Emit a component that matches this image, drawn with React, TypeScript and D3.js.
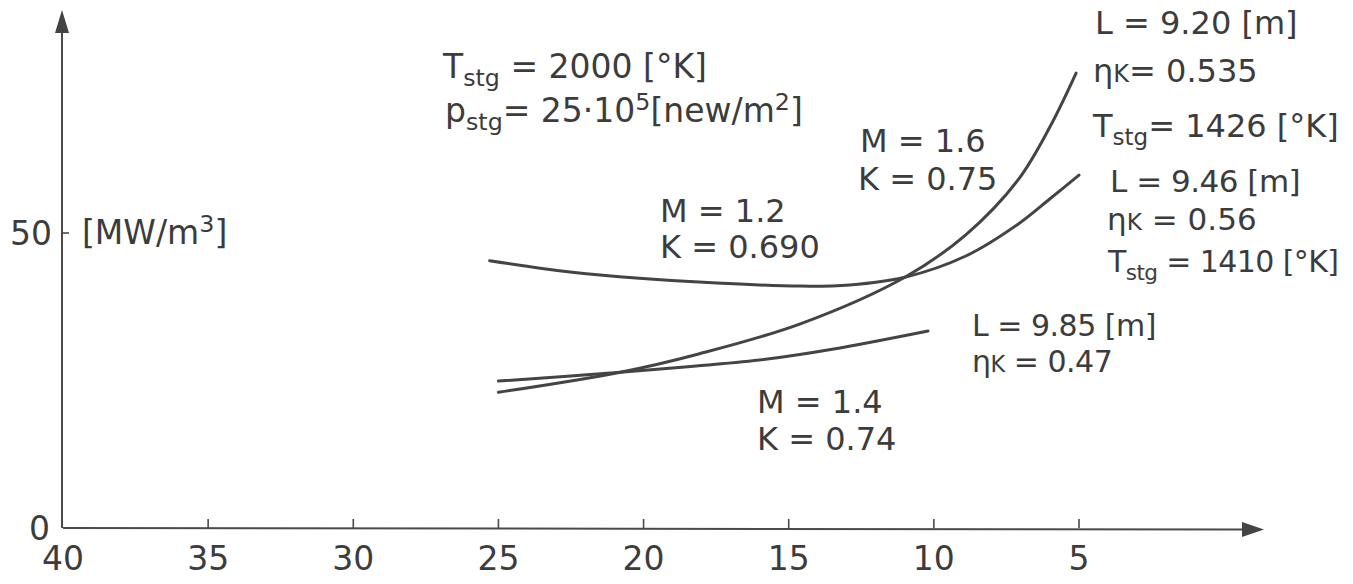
import React from 'react'
import * as d3 from 'd3'

// axis ticks
const xTicks = [40, 35, 30, 25, 20, 15, 10, 5]
const yTicks = [0, 50]

// curves: x = abscissa value, y = MW/m3
const m12x = [25.3, 23.5, 21.5, 18.1, 14.6, 12.9, 11.0, 8.9, 7.1, 6.0, 5.0]
const m12y = [45.3, 44.0, 42.9, 41.7, 41.0, 41.2, 42.5, 46.1, 51.5, 55.8, 59.8]

const m16x = [25.0, 20.8, 18.1, 14.6, 11.0, 8.9, 7.1, 6.0, 5.1]
const m16y = [23.0, 26.4, 29.5, 34.6, 42.5, 49.7, 59.0, 68.0, 77.1]

const m14x = [25.0, 20.8, 18.1, 15.8, 13.5, 10.2]
const m14y = [24.9, 26.4, 27.5, 28.6, 30.3, 33.4]

const series = [
  { name: 'M=1.2', xs: m12x, ys: m12y },
  { name: 'M=1.6', xs: m16x, ys: m16y },
  { name: 'M=1.4', xs: m14x, ys: m14y },
]

type Part = { t: string; shift?: number; scale?: number }

const FONT = '"DejaVu Sans", sans-serif'
const INK = '#3c3c3c'

const Rich = ({
  x,
  y,
  parts,
  size = 32,
  spacing = 0,
}: {
  x: number
  y: number
  parts: Part[]
  size?: number
  spacing?: number
}) => {
  let prev = 0
  return (
    <text x={x} y={y} fontSize={size} fontFamily={FONT} fill={INK} letterSpacing={spacing}>
      {parts.map((p, i) => {
        const s = p.shift || 0
        const dy = s - prev
        prev = s
        return (
          <tspan key={i} dy={dy} fontSize={size * (p.scale || 1)}>
            {p.t}
          </tspan>
        )
      })}
    </text>
  )
}

const sub = (t: string): Part => ({ t, shift: 8, scale: 0.72 })
const sup = (t: string): Part => ({ t, shift: -12, scale: 0.72 })
const small = (t: string): Part => ({ t, shift: 0, scale: 0.75 })

const App = () => {
  const width = 1353
  const height = 584

  const x = d3.scaleLinear().domain([40, 5]).range([63, 1079])
  const y = d3.scaleLinear().domain([0, 50]).range([528, 233])

  const line = d3
    .line<[number, number]>()
    .x((d) => x(d[0]))
    .y((d) => y(d[1]))
    .curve(d3.curveCatmullRom.alpha(0.5))

  const x0 = x(40)
  const y0 = y(0)
  const xEnd = 1264
  const yTop = 10

  return (
    <svg width={width} height={height} style={{ position: 'absolute', left: 0, top: 0, background: '#fff' }}>
      {/* axes */}
      <line x1={x0} y1={y0} x2={xEnd - 18} y2={y0 + 1.5} stroke="#4a4a4a" strokeWidth={2} />
      <path d={`M${xEnd},${y0 + 1.5} L${xEnd - 22},${y0 - 6} L${xEnd - 22},${y0 + 9} Z`} fill="#444" />
      <line x1={x0 - 1} y1={y0} x2={x0 - 1} y2={yTop + 18} stroke="#4a4a4a" strokeWidth={2} />
      <path d={`M${x0 - 1},${yTop} L${x0 - 8},${yTop + 23} L${x0 + 6},${yTop + 23} Z`} fill="#444" />

      {xTicks.slice(1).map((t) => (
        <line key={t} x1={x(t)} x2={x(t)} y1={y0} y2={y0 - 9} stroke="#4a4a4a" strokeWidth={1.6} />
      ))}
      {xTicks.map((t) => (
        <text key={t} x={x(t)} y={570} textAnchor="middle" fontSize={33} fontFamily={FONT} fill={INK}>
          {t}
        </text>
      ))}
      {yTicks.slice(1).map((t) => (
        <line key={t} x1={x0 - 1} x2={x0 + 6} y1={y(t)} y2={y(t)} stroke="#4a4a4a" strokeWidth={1.6} />
      ))}
      <text x={50} y={y(0) + 12} textAnchor="end" fontSize={33} fontFamily={FONT} fill={INK}>
        {yTicks[0]}
      </text>
      <text x={52} y={y(50) + 12} textAnchor="end" fontSize={33} fontFamily={FONT} fill={INK}>
        {yTicks[1]}
      </text>
      <Rich x={82} y={244} size={33} parts={[{ t: '[MW/m' }, sup('3'), { t: ']' }]} />

      {/* curves */}
      {series.map((s) => (
        <path
          key={s.name}
          d={line(s.xs.map((v, i) => [v, s.ys[i]] as [number, number])) || ''}
          fill="none"
          stroke="#444"
          strokeWidth={3}
          strokeLinecap="round"
        />
      ))}

      {/* annotations */}
      <Rich x={443} y={78} size={33} parts={[{ t: 'T' }, sub('stg'), { t: ' = 2000 [°K]' }]} />
      <Rich
        x={445}
        y={122}
        size={33}
        parts={[{ t: 'p' }, sub('stg'), { t: '= 25·10' }, sup('5'), { t: '[new/m' }, sup('2'), { t: ']' }]}
      />

      <Rich x={660} y={222} parts={[{ t: 'M = 1.2' }]} />
      <Rich x={660} y={258} parts={[{ t: 'K = 0.690' }]} />

      <Rich x={860} y={152} parts={[{ t: 'M = 1.6' }]} />
      <Rich x={858} y={190} parts={[{ t: 'K = 0.75' }]} />

      <Rich x={757} y={413} parts={[{ t: 'M = 1.4' }]} />
      <Rich x={757} y={450} parts={[{ t: 'K = 0.74' }]} />

      <Rich x={1095} y={34} parts={[{ t: 'L = 9.20 [m]' }]} />
      <Rich x={1093} y={82} parts={[{ t: 'η' }, small('K'), { t: '= 0.535' }]} />
      <Rich x={1093} y={137} parts={[{ t: 'T' }, sub('stg'), { t: '= 1426 [°K]' }]} />

      <Rich x={1110} y={192} size={31} spacing={-0.5} parts={[{ t: 'L = 9.46 [m]' }]} />
      <Rich x={1107} y={230} size={31} parts={[{ t: 'η' }, small('K'), { t: ' = 0.56' }]} />
      <Rich x={1108} y={272} size={30} spacing={-0.6} parts={[{ t: 'T' }, sub('stg'), { t: ' = 1410 [°K]' }]} />

      <Rich x={972} y={336} size={30} spacing={-0.5} parts={[{ t: 'L = 9.85 [m]' }]} />
      <Rich x={972} y={372} size={30} spacing={-0.5} parts={[{ t: 'η' }, small('K'), { t: ' = 0.47' }]} />
    </svg>
  )
}

export default App
